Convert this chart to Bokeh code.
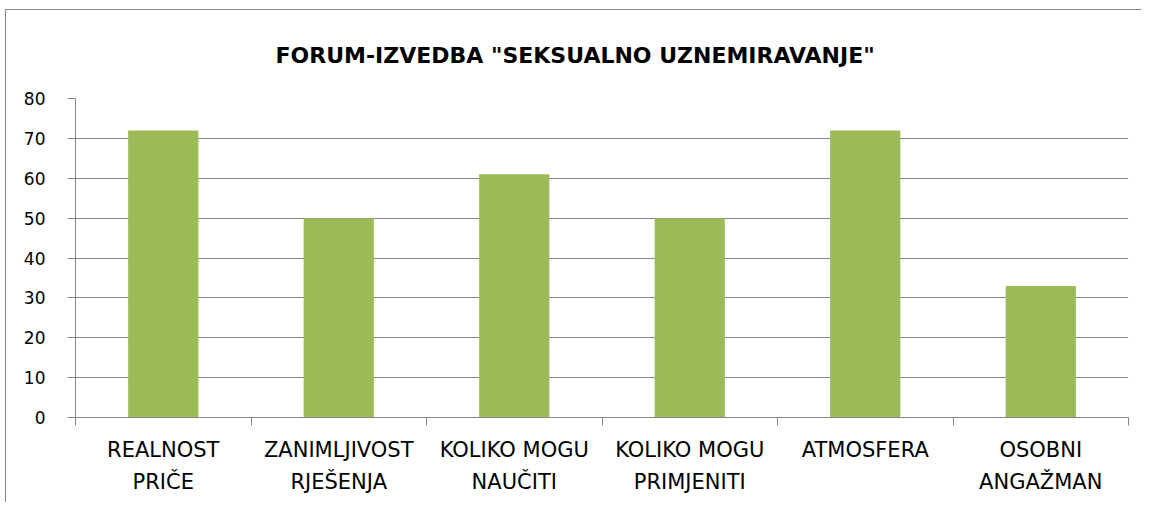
from bokeh.plotting import figure
from bokeh.models import Range1d, FixedTicker, Title
from bokeh.embed import file_html
from bokeh.resources import INLINE

categories = ["REALNOST\nPRIČE", "ZANIMLJIVOST\nRJEŠENJA", "KOLIKO MOGU\nNAUČITI",
              "KOLIKO MOGU\nPRIMJENITI", "ATMOSFERA", "OSOBNI\nANGAŽMAN"]
values = [72, 50, 61, 50, 72, 33]
y_ticks = [0, 10, 20, 30, 40, 50, 60, 70, 80]
title_text = 'FORUM-IZVEDBA "SEKSUALNO UZNEMIRAVANJE"'

FONT = "DejaVu Sans"
GRAY = "#868686"

n = len(categories)
centers = [i + 0.5 for i in range(n)]
bounds = [float(i) for i in range(n + 1)]

p = figure(width=1136, height=493, output_backend="svg", toolbar_location=None,
           x_range=Range1d(0, n), y_range=Range1d(0, 80),
           min_border_left=69, min_border_right=14, min_border_top=88, min_border_bottom=86,
           margin=(9, 0, 0, 5),
           styles={"border-left": "1px solid #868686", "border-top": "1px solid #868686"})
p.outline_line_color = None
p.background_fill_color = "white"
p.border_fill_color = "white"

p.vbar(x=centers, top=values, width=0.4, bottom=0, color="#9BBB59", line_color=None)

t = Title(text=title_text, align="left", vertical_align="top", offset=200, standoff=58,
          text_font=FONT, text_font_size="22px", text_font_style="bold", text_color="black")
p.add_layout(t, "above")

# x axis
xa = p.xaxis[0]
xa.ticker = FixedTicker(ticks=centers, minor_ticks=bounds)
xa.major_label_overrides = {c: lab for c, lab in zip(centers, categories)}
xa.major_tick_line_color = None
xa.major_tick_out = 0
xa.major_tick_in = 0
xa.minor_tick_line_color = GRAY
xa.minor_tick_out = 8
xa.minor_tick_in = 0
xa.axis_line_color = GRAY
xa.major_label_standoff = 12
xa.major_label_text_font = FONT
xa.major_label_text_font_size = "21px"
xa.major_label_text_color = "black"
xa.major_label_text_line_height = 1.36

# y axis
ya = p.yaxis[0]
ya.ticker = FixedTicker(ticks=y_ticks)
ya.minor_tick_line_color = None
ya.major_tick_line_color = GRAY
ya.major_tick_out = 8
ya.major_tick_in = 0
ya.axis_line_color = GRAY
ya.major_label_standoff = 22
ya.major_label_text_font = FONT
ya.major_label_text_font_size = "17px"
ya.major_label_text_color = "black"

p.xgrid.grid_line_color = None
p.ygrid.grid_line_color = GRAY
p.ygrid.grid_line_width = 1

open("out.html", "w").write(file_html(p, INLINE))
